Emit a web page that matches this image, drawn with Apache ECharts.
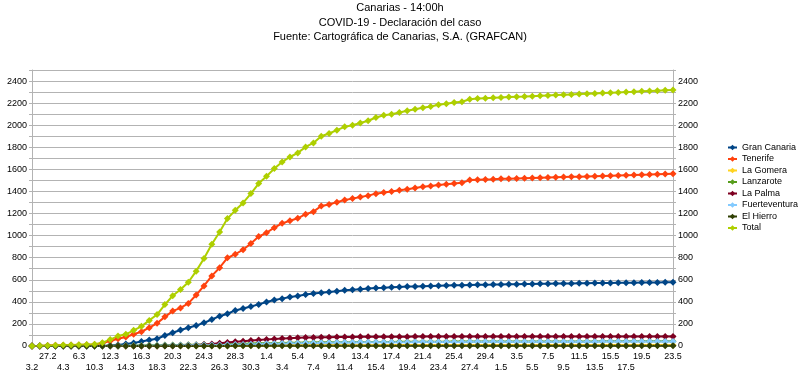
<!DOCTYPE html>
<html>
<head>
<meta charset="utf-8">
<script src="https://cdn.jsdelivr.net/npm/echarts@6/dist/echarts.min.js"></script>
<style>html,body{margin:0;padding:0;background:#fff;}#c{width:800px;height:388px;}</style>
</head>
<body>
<div id="c"></div>
<script>
const dates = ['3.2','24.2','27.2','2.3','4.3','5.3','6.3','9.3',
'10.3','11.3','12.3','13.3','14.3','15.3','16.3','17.3','18.3','19.3','20.3','21.3','22.3','23.3','24.3','25.3','26.3','27.3','28.3','29.3','30.3','31.3',
'1.4','2.4','3.4','4.4','5.4','6.4','7.4','8.4','9.4','10.4','11.4','12.4','13.4','14.4','15.4','16.4','17.4','18.4','19.4','20.4','21.4','22.4','23.4','24.4','25.4','26.4','27.4','28.4','29.4','30.4',
'1.5','2.5','3.5','4.5','5.5','6.5','7.5','8.5','9.5','10.5','11.5','12.5','13.5','14.5','15.5','16.5','17.5','18.5','19.5','20.5','21.5','22.5','23.5'];

const granCanaria = [0,0,0,0,0,0,0,0,0,2,
5,10,18,28,40,55,66,95,120,145,
165,185,210,240,270,292,322,340,358,377,
398,416,429,444,453,466,475,482,489,496,
504,510,515,520,525,528,532,535,538,540,
542,544,546,548,550,551,553,554,555,556,
558,559,560,561,562,563,564,565,566,567,
568,569,570,570,571,572,573,574,575,576,
576,577,577];

const tenerife = [0,1,4,6,7,8,10,12,13,26,
45,65,82,107,129,166,206,264,316,345,
386,462,544,635,709,799,831,872,929,991,
1026,1072,1111,1135,1157,1194,1217,1268,1282,1303,
1322,1335,1350,1362,1380,1390,1400,1410,1420,1432,
1443,1450,1458,1465,1472,1478,1503,1507,1509,1511,
1514,1516,1518,1520,1522,1524,1526,1528,1530,1532,
1534,1536,1538,1540,1542,1544,1546,1548,1551,1553,
1556,1558,1560];

const laGomera = [1,1,1,1,1,1,1,1,1,1,
1,1,1,1,1,1,1,2,2,2,
2,2,3,3,3,3,4,4,4,4,
5,5,5,6,6,6,6,6,7,7,
7,7,7,7,7,7,8,8,8,8,
8,8,8,8,8,8,8,8,8,8,
8,8,8,8,8,8,8,8,8,8,
8,8,8,8,8,8,8,8,8,8,
8,8,8];

const lanzarote = [0,0,0,0,0,0,0,0,1,1,
2,2,3,4,5,6,7,8,9,10,
11,12,13,14,15,17,19,20,22,24,
25,26,28,29,30,31,32,33,34,34,
35,35,36,36,37,37,37,38,38,38,
39,39,39,39,40,40,40,40,40,40,
40,40,40,41,41,41,41,41,41,41,
41,41,41,42,42,42,42,42,42,42,
42,42,42];

const laPalma = [0,0,0,0,0,0,0,0,0,0,
0,0,0,0,0,1,1,2,3,4,
6,9,13,19,25,31,38,44,50,55,
60,64,68,71,74,76,78,79,80,81,
82,82,83,83,83,84,84,84,84,85,
85,85,85,85,85,86,86,86,86,86,
86,86,86,86,86,86,86,86,86,86,
87,87,87,87,87,87,87,87,87,87,
87,87,87];

const fuerteventura = [0,0,0,0,0,0,0,0,0,0,
1,1,2,2,3,3,4,4,5,6,
7,8,8,9,10,11,13,14,16,18,
20,21,23,24,26,27,28,29,30,31,
32,32,33,33,34,34,35,35,35,36,
36,36,37,37,37,37,38,38,38,38,
38,38,38,38,39,39,39,39,39,39,
39,39,39,40,40,40,40,40,40,40,
40,40,40];

const elHierro = [0,0,0,0,0,0,0,0,0,0,
0,0,0,0,0,0,0,0,0,0,
0,0,1,1,1,1,2,2,2,2,
3,3,3,3,3,3,3,3,3,3,
3,3,3,3,3,3,3,3,3,3,
3,3,3,3,3,3,3,3,3,3,
3,3,3,3,3,3,3,3,3,3,
3,3,3,3,3,3,3,3,3,3,
3,3,3];

const total = [1,2,5,7,8,9,11,13,15,30,
58,90,106,142,178,232,285,375,455,512,
577,678,792,921,1033,1154,1229,1296,1381,1471,
1537,1607,1667,1712,1749,1803,1839,1900,1925,1955,
1985,2000,2020,2040,2070,2090,2100,2115,2130,2145,
2158,2170,2185,2195,2205,2212,2235,2242,2245,2248,
2252,2255,2258,2260,2263,2266,2270,2273,2276,2279,
2282,2285,2288,2291,2294,2297,2300,2303,2307,2310,
2313,2316,2318];

const seriesNames = ['Gran Canaria','Tenerife','La Gomera','Lanzarote','La Palma','Fuerteventura','El Hierro','Total'];
const seriesData = [granCanaria, tenerife, laGomera, lanzarote, laPalma, fuerteventura, elHierro, total];
const seriesColors = ['#004586','#ff420e','#ffd320','#579d1c','#7e0021','#83caff','#314004','#aecf00'];

const titleLines = ['Canarias - 14:00h','COVID-19 - Declaración del caso','Fuente: Cartográfica de Canarias, S.A. (GRAFCAN)'];

const FONT = '"Liberation Sans", Arial, sans-serif';
const chart = echarts.init(document.getElementById('c'), null, {renderer: 'canvas'});

const yLabelFmt = v => (v % 200 === 0 ? String(v) : '');

const yAxisCommon = {
  type: 'value', min: 0, max: 2500, interval: 100,
  axisLine: {show: true, lineStyle: {color: '#b3b3b3', width: 1}},
  axisTick: {show: true, length: 3, lineStyle: {color: '#b3b3b3'}},
  axisLabel: {formatter: yLabelFmt, fontSize: 9, color: '#000', fontFamily: FONT, margin: 5},
};

chart.setOption({
  animation: false,
  backgroundColor: '#fff',
  title: {
    text: titleLines.join('\n'),
    left: 'center', top: 1, padding: 0,
    textStyle: {fontSize: 11, fontWeight: 'normal', color: '#000', fontFamily: FONT, lineHeight: 14.5}
  },
  legend: {
    orient: 'vertical', left: 727, top: 142, padding: 0,
    itemWidth: 9, itemHeight: 7, itemGap: 0.5,
    textStyle: {fontSize: 9, color: '#000', fontFamily: FONT, lineHeight: 11},
    data: seriesNames
  },
  grid: {left: 32, right: 127, top: 70, bottom: 42, containLabel: false},
  xAxis: {
    type: 'category', data: dates, boundaryGap: false,
    axisLine: {show: true, lineStyle: {color: '#b3b3b3'}},
    axisTick: {show: false},
    axisLabel: {
      interval: 1, fontSize: 9, color: '#000', fontFamily: FONT, margin: 5, lineHeight: 11,
      showMinLabel: true, showMaxLabel: true, hideOverlap: false,
      formatter: (v, i) => (i % 4 === 0 ? '\n' + v : v)
    },
    splitLine: {show: false}
  },
  yAxis: [
    Object.assign({}, yAxisCommon, {position: 'left', splitLine: {show: true, lineStyle: {color: '#b3b3b3', width: 1}}}),
    Object.assign({}, yAxisCommon, {position: 'right', splitLine: {show: false}})
  ],
  series: seriesNames.map((n, k) => ({
    name: n, type: 'line', data: seriesData[k],
    yAxisIndex: 0,
    symbol: 'diamond', symbolSize: 7, showSymbol: true, showAllSymbol: true,
    lineStyle: {width: 2, color: seriesColors[k]},
    itemStyle: {color: seriesColors[k]},
    emphasis: {disabled: true}
  }))
});
</script>
</body>
</html>
